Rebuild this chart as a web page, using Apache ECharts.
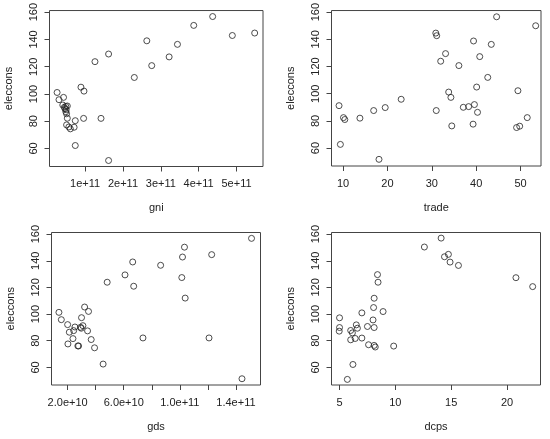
<!DOCTYPE html>
<html>
<head>
<meta charset="utf-8">
<script src="https://cdn.jsdelivr.net/npm/echarts@6/dist/echarts.min.js"></script>
<style>
  html, body { margin: 0; padding: 0; background: #fff; }
  #chart { width: 550px; height: 439px; }
</style>
</head>
<body>
<div id="chart"></div>
<script>
// values, [x, eleccons]
const gniPts = [
  [0.26e11, 101.1], [0.31e11, 95.8], [0.43e11, 97.5], [0.41e11, 91.9], [0.45e11, 90.2],
  [0.49e11, 90.9], [0.53e11, 91.2], [0.47e11, 89.2], [0.49e11, 87.0], [0.50e11, 88.4],
  [0.51e11, 85.5], [0.53e11, 82.2], [0.74e11, 80.4], [0.51e11, 77.3], [0.57e11, 75.8],
  [0.61e11, 74.4], [0.71e11, 75.6], [0.74e11, 62.2], [0.89e11, 105], [0.97e11, 102.1],
  [0.96e11, 82.1], [1.26e11, 123.7], [1.42e11, 82.1], [1.62e11, 129.3], [1.62e11, 51.2],
  [2.30e11, 112.1], [2.63e11, 139], [2.76e11, 120.8], [3.22e11, 127.2], [3.44e11, 136.4],
  [3.87e11, 150.3], [4.37e11, 156.8], [4.89e11, 142.9], [5.48e11, 144.7]
];
const tradePts = [
  [9.1, 91.2], [9.4, 62.7], [10.1, 82.4], [10.4, 81], [13.8, 82], [16.9, 87.6], [18.1, 51.7],
  [19.5, 89.8], [23.1, 95.9], [30.9, 144.6], [31.1, 142.7], [31.0, 87.6], [32.0, 123.9],
  [33.1, 129.5], [33.8, 101.2], [34.3, 97.3], [34.5, 76.3], [36.1, 120.7], [37.1, 90.0],
  [38.3, 90.5], [39.4, 138.8], [39.6, 92.0], [39.3, 77.6], [40.1, 104.9], [40.3, 86.3],
  [40.8, 127.3], [42.6, 112.0], [43.4, 136.3], [44.6, 156.6], [49.4, 102.2], [49.1, 75.1],
  [49.8, 76.1], [51.5, 82.4], [53.4, 150]
];
const gdsPts = [
  [1.38e10, 101.3], [1.55e10, 95.8], [2.0e10, 92.1], [2.12e10, 86.4], [2.02e10, 77.6],
  [2.38e10, 81.6], [2.43e10, 87.6], [2.52e10, 90.3], [2.73e10, 76.1], [2.78e10, 76.1],
  [2.92e10, 90.1], [2.97e10, 89.4], [2.99e10, 97.3], [3.09e10, 91.3], [3.21e10, 105.3],
  [3.42e10, 87.4], [3.49e10, 102], [3.68e10, 80.9], [3.92e10, 74.7], [4.53e10, 62.5],
  [4.82e10, 123.9], [6.09e10, 129.4], [6.64e10, 139.1], [6.71e10, 120.9], [7.37e10, 82.1],
  [8.63e10, 136.6], [10.33e10, 150.2], [10.19e10, 142.8], [12.27e10, 144.6], [10.14e10, 127.4],
  [10.38e10, 112], [12.08e10, 82.1], [15.11e10, 156.8], [14.43e10, 51.5]
];
const dcpsPts = [
  [5.0, 97.2], [5.0, 89.9], [4.97, 87.2], [5.7, 51], [6.0, 87.7], [6.15, 85.9], [6.0, 80.7],
  [6.2, 62.2], [6.4, 81.7], [6.5, 91.9], [6.6, 89.4], [7.0, 100.9], [7.0, 82], [7.5, 90.7],
  [7.6, 77], [8.0, 95.6], [8.05, 104.9], [8.1, 111.9], [8.1, 89.9], [8.1, 76.5], [8.2, 75.3],
  [8.4, 129.6], [8.45, 123.9], [8.9, 101.9], [9.85, 76], [12.6, 150.3], [14.1, 157],
  [14.4, 143], [14.75, 144.8], [14.9, 139], [15.65, 136.5], [20.8, 127.3], [22.3, 120.6]
];

// tick marks and labels
const yTicks = [60, 80, 100, 120, 140, 160];
const gniTicks = [1e11, 2e11, 3e11, 4e11, 5e11];
const tradeTicks = [10, 20, 30, 40, 50];
const gdsTicks = [2e10, 4e10, 6e10, 8e10, 10e10, 12e10, 14e10];
const gdsLabels = [2e10, 6e10, 10e10, 14e10];
const dcpsTicks = [5, 10, 15, 20];

const font = 'Liberation Sans, Arial, sans-serif';
const ink = '#222';
const boxCol = '#444';

// panel geometry (px), and axis ranges as R sets them
const panels = [
  { box: [49.5, 10.5, 213.5, 156], name: 'gni', pts: gniPts, xmin: 0.059e11, xmax: 5.70e11,
    ticks: gniTicks, labels: gniTicks, fmt: v => v.toExponential(0) },
  { box: [331.5, 10.5, 209.5, 155.5], name: 'trade', pts: tradePts, xmin: 7.4, xmax: 54.6,
    ticks: tradeTicks, labels: tradeTicks, fmt: v => String(v) },
  { box: [51.5, 232.5, 209, 152.5], name: 'gds', pts: gdsPts, xmin: 0.85e10, xmax: 15.75e10,
    ticks: gdsTicks, labels: gdsLabels, fmt: v => v.toExponential(1) },
  { box: [331.5, 232.5, 209, 152.5], name: 'dcps', pts: dcpsPts, xmin: 4.28, xmax: 23.0,
    ticks: dcpsTicks, labels: dcpsTicks, fmt: v => String(v) }
];

const grid = [], xAxis = [], yAxis = [], series = [];
panels.forEach((p, i) => {
  grid.push({
    left: p.box[0], top: p.box[1], width: p.box[2], height: p.box[3],
    show: true, borderColor: boxCol, borderWidth: 1, backgroundColor: 'transparent'
  });
  xAxis.push({
    gridIndex: i, type: 'value', min: p.xmin, max: p.xmax,
    name: p.name, nameLocation: 'middle', nameGap: 36,
    nameTextStyle: { color: ink, fontFamily: font, fontSize: 11 },
    axisLine: { show: false },
    axisTick: { show: true, length: 5, inside: false, customValues: p.ticks,
      lineStyle: { color: boxCol, width: 1 } },
    axisLabel: { customValues: p.labels, formatter: p.fmt, margin: 12,
      color: ink, fontFamily: font, fontSize: 11 },
    splitLine: { show: false }
  });
  yAxis.push({
    gridIndex: i, type: 'value', min: 46.8, max: 161.2,
    name: 'eleccons', nameLocation: 'middle', nameGap: 35,
    nameTextStyle: { color: ink, fontFamily: font, fontSize: 11 },
    axisLine: { show: false },
    axisTick: { show: true, length: 5, inside: false, customValues: yTicks,
      lineStyle: { color: boxCol, width: 1 } },
    axisLabel: { customValues: yTicks, rotate: 90, margin: 10,
      color: ink, fontFamily: font, fontSize: 11 },
    splitLine: { show: false }
  });
  series.push({
    type: 'scatter', xAxisIndex: i, yAxisIndex: i, data: p.pts,
    symbol: 'circle', symbolSize: 6,
    itemStyle: { color: 'rgba(0,0,0,0)', borderColor: '#222', borderWidth: 1 },
    emphasis: { disabled: true }, silent: true
  });
});

const myChart = echarts.init(document.getElementById('chart'), null, { renderer: 'canvas' });
myChart.setOption({ animation: false, grid, xAxis, yAxis, series });
</script>
</body>
</html>
